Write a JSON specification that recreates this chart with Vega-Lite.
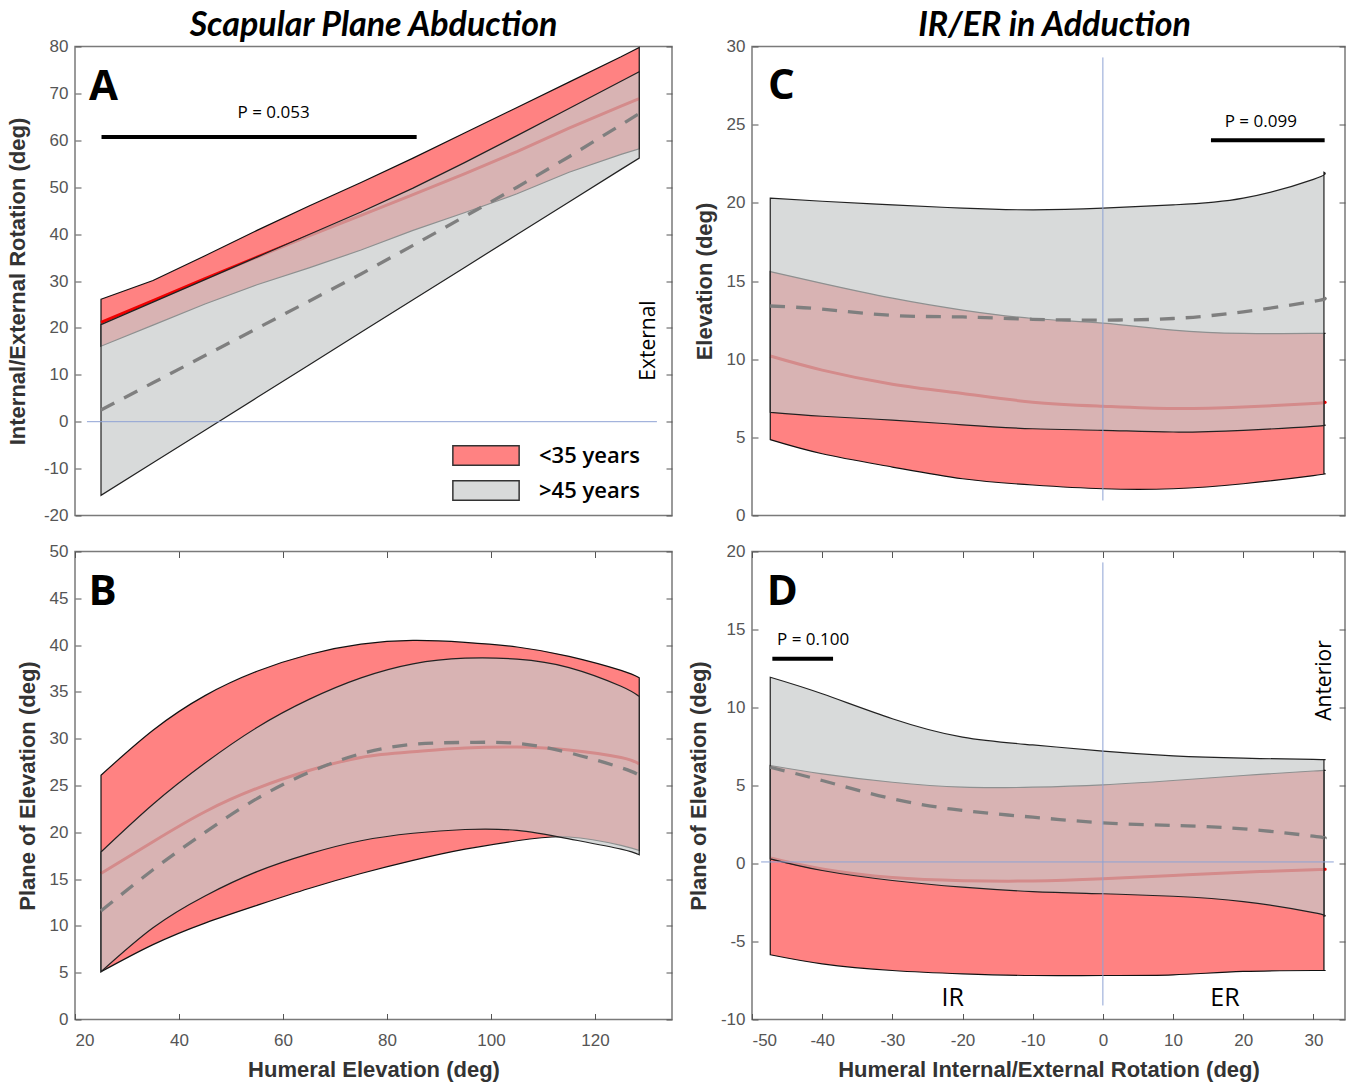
{
"$schema":"https://vega.github.io/schema/vega-lite/v6.json",
"background":"white",
"padding":{"left":5,"top":7.5,"right":5,"bottom":5},
"datasets":{
"A":[
{"x":25,"yu":26.1,"yl":16.1,"ym":21.2,"ou":20.7,"ol":-15.7,"om":2.5},
{"x":35,"yu":30.1,"yl":20.6,"ym":25.8,"ou":25.5,"ol":-8.75,"om":8.3},
{"x":45,"yu":35.4,"yl":25.1,"ym":30.5,"ou":30.3,"ol":-1.8,"om":14.1},
{"x":55,"yu":40.8,"yl":29.2,"ym":35.1,"ou":35.1,"ol":5.15,"om":19.9},
{"x":65,"yu":46.0,"yl":32.8,"ym":39.6,"ou":39.9,"ol":12.1,"om":25.7},
{"x":75,"yu":51.0,"yl":36.6,"ym":44.0,"ou":44.7,"ol":19.05,"om":31.5},
{"x":85,"yu":56.2,"yl":40.8,"ym":48.4,"ou":49.8,"ol":26.0,"om":37.6},
{"x":95,"yu":61.6,"yl":44.6,"ym":52.9,"ou":55.3,"ol":32.95,"om":43.8},
{"x":105,"yu":67.0,"yl":48.6,"ym":57.6,"ou":61.0,"ol":39.9,"om":50.0},
{"x":115,"yu":72.4,"yl":53.2,"ym":62.6,"ou":66.8,"ol":46.85,"om":56.5},
{"x":125,"yu":77.8,"yl":57.0,"ym":67.3,"ou":72.6,"ol":53.8,"om":63.3},
{"x":128.5,"yu":79.8,"yl":58.2,"ym":68.9,"ou":74.6,"ol":56.2,"om":65.7}
],
"B":[
{"x":25,"yu":26.1,"yl":5.1,"ym":15.6,"ou":17.9,"ol":5.1,"om":11.6},
{"x":35,"yu":30.9,"yl":8.0,"ym":19.0,"ou":23.0,"ol":9.8,"om":16.0},
{"x":45,"yu":34.6,"yl":10.3,"ym":22.2,"ou":27.4,"ol":13.2,"om":20.0},
{"x":55,"yu":37.2,"yl":12.2,"ym":24.7,"ou":31.2,"ol":15.8,"om":23.6},
{"x":65,"yu":39.0,"yl":14.0,"ym":26.6,"ou":34.2,"ol":17.7,"om":26.4},
{"x":75,"yu":40.1,"yl":15.6,"ym":28.0,"ou":36.5,"ol":19.1,"om":28.4},
{"x":85,"yu":40.5,"yl":17.0,"ym":28.6,"ou":38.0,"ol":19.9,"om":29.4},
{"x":95,"yu":40.3,"yl":18.2,"ym":29.0,"ou":38.6,"ol":20.3,"om":29.6},
{"x":105,"yu":39.8,"yl":19.1,"ym":29.1,"ou":38.5,"ol":20.2,"om":29.5},
{"x":115,"yu":38.8,"yl":19.5,"ym":28.8,"ou":37.6,"ol":19.3,"om":28.5},
{"x":125,"yu":37.3,"yl":18.6,"ym":28.0,"ou":35.6,"ol":18.2,"om":26.9},
{"x":128.5,"yu":36.5,"yl":18.05,"ym":27.3,"ou":34.5,"ol":17.6,"om":26.1}
],
"C":[
{"x":-47.4,"yu":15.6,"yl":4.85,"ym":10.2,"ou":20.3,"ol":6.6,"om":13.4},
{"x":-40,"yu":14.85,"yl":3.95,"ym":9.3,"ou":20.1,"ol":6.35,"om":13.2},
{"x":-30,"yu":13.9,"yl":3.1,"ym":8.4,"ou":19.87,"ol":6.1,"om":12.8},
{"x":-20,"yu":13.14,"yl":2.35,"ym":7.8,"ou":19.66,"ol":5.8,"om":12.7},
{"x":-10,"yu":12.6,"yl":1.95,"ym":7.25,"ou":19.55,"ol":5.55,"om":12.55},
{"x":0,"yu":12.3,"yl":1.71,"ym":6.99,"ou":19.66,"ol":5.45,"om":12.5},
{"x":10,"yu":11.86,"yl":1.71,"ym":6.84,"ou":19.87,"ol":5.34,"om":12.6},
{"x":20,"yu":11.65,"yl":2.03,"ym":6.94,"ou":20.3,"ol":5.45,"om":13.03},
{"x":30,"yu":11.65,"yl":2.55,"ym":7.16,"ou":21.5,"ol":5.7,"om":13.7},
{"x":31.5,"yu":11.65,"yl":2.67,"ym":7.26,"ou":21.95,"ol":5.8,"om":13.9}
],
"D":[
{"x":-47.4,"yu":6.28,"yl":-5.85,"ym":0.35,"ou":11.94,"ol":0.3,"om":6.17},
{"x":-40,"yu":5.75,"yl":-6.43,"ym":-0.35,"ou":10.88,"ol":-0.45,"om":5.32},
{"x":-30,"yu":5.21,"yl":-6.86,"ym":-0.9,"ou":9.28,"ol":-1.09,"om":4.15},
{"x":-20,"yu":4.89,"yl":-7.07,"ym":-1.1,"ou":8.1,"ol":-1.52,"om":3.4},
{"x":-10,"yu":4.89,"yl":-7.18,"ym":-1.12,"ou":7.6,"ol":-1.8,"om":2.97},
{"x":0,"yu":5.04,"yl":-7.18,"ym":-0.98,"ou":7.2,"ol":-1.94,"om":2.61},
{"x":10,"yu":5.32,"yl":-7.14,"ym":-0.77,"ou":6.9,"ol":-2.1,"om":2.44},
{"x":20,"yu":5.64,"yl":-6.92,"ym":-0.56,"ou":6.75,"ol":-2.44,"om":2.22},
{"x":30,"yu":5.93,"yl":-6.86,"ym":-0.4,"ou":6.67,"ol":-3.15,"om":1.75},
{"x":31.5,"yu":5.96,"yl":-6.86,"ym":-0.38,"ou":6.65,"ol":-3.38,"om":1.62}
]
},
"columns":2,
"spacing":{"row":36,"column":80},
"bounds":"flush",
"concat":[
{
"width":597,"height":469,
"title":{"text":"Scapular Plane Abduction","font":"Lato","fontSize":34,"fontStyle":"italic","fontWeight":"bold","color":"#000","anchor":"middle","frame":"group","offset":-5},
"layer":[
{"data":{"name":"A"},"mark":{"type":"area","stroke":"#111","strokeWidth":1.2},
"encoding":{
"x":{"field":"x","type":"quantitative","scale":{"domain":[20,134.8],"nice":false,"zero":false},"axis":null},
"y":{"field":"yu","type":"quantitative","scale":{"domain":[-20,80],"nice":false,"zero":false},"axis":{"orient":"left","title":"Internal/External Rotation (deg)","values":[-20,-10,0,10,20,30,40,50,60,70,80],"labelExpr":"'' + datum.value","titlePadding":14}},
"y2":{"field":"yl"},
"fill":{"datum":"<35 years","type":"nominal","scale":{"domain":["<35 years",">45 years"],"range":["#ff8282","#c6c9c9"]},
"legend":{"orient":"none","legendX":400,"legendY":398,"title":null,"symbolType":"M-3.4,-1H3.4V1H-3.4Z","symbolSize":380,"symbolStrokeColor":"#333","symbolStrokeWidth":1.5,"labelFont":"Open Sans","labelFontSize":22,"labelFontWeight":600,"labelColor":"#000","labelOffset":42,"rowPadding":9,"padding":0,
"encode":{"symbols":{"update":{"fillOpacity":{"signal":"datum.value === '>45 years' ? 0.69 : 1"},"stroke":{"value":"#333"},"strokeWidth":{"value":1.5}}}}}}
}},
{"data":{"name":"A"},"mark":{"type":"line","color":"#f00000","strokeWidth":3},
"encoding":{
"x":{"field":"x","type":"quantitative","scale":{"domain":[20,134.8],"nice":false,"zero":false},"axis":null},
"y":{"field":"ym","type":"quantitative","scale":{"domain":[-20,80],"nice":false,"zero":false},"axis":{"orient":"right","labels":false,"title":null,"values":[-20,-10,0,10,20,30,40,50,60,70,80]}}
}},
{"data":{"name":"A"},"mark":{"type":"area","fillOpacity":0.69,"stroke":"#222","strokeWidth":1.2},
"encoding":{
"x":{"field":"x","type":"quantitative","scale":{"domain":[20,134.8],"nice":false,"zero":false},"axis":null},
"y":{"field":"ou","type":"quantitative","scale":{"domain":[-20,80],"nice":false,"zero":false},"axis":null},
"y2":{"field":"ol"},
"fill":{"datum":">45 years","type":"nominal","scale":{"domain":["<35 years",">45 years"],"range":["#ff8282","#c6c9c9"]},
"legend":{"orient":"none","legendX":400,"legendY":398,"title":null,"symbolType":"M-3.4,-1H3.4V1H-3.4Z","symbolSize":380,"symbolStrokeColor":"#333","symbolStrokeWidth":1.5,"labelFont":"Open Sans","labelFontSize":22,"labelFontWeight":600,"labelColor":"#000","labelOffset":42,"rowPadding":9,"padding":0,
"encode":{"symbols":{"update":{"fillOpacity":{"signal":"datum.value === '>45 years' ? 0.69 : 1"},"stroke":{"value":"#333"},"strokeWidth":{"value":1.5}}}}}}
}},
{"data":{"name":"A"},"mark":{"type":"line","color":"#7f7f7f","strokeWidth":3.3,"strokeDash":[15,11]},
"encoding":{
"x":{"field":"x","type":"quantitative","scale":{"domain":[20,134.8],"nice":false,"zero":false},"axis":null},
"y":{"field":"om","type":"quantitative","scale":{"domain":[-20,80],"nice":false,"zero":false},"axis":null}
}},
{"data":{"values":[{"x1":22.3,"x2":131.9,"y":0}]},"mark":{"type":"rule","color":"#8ea2d4","strokeWidth":1},
"encoding":{
"x":{"field":"x1","type":"quantitative","scale":{"domain":[20,134.8],"nice":false,"zero":false},"axis":null},
"x2":{"field":"x2"},
"y":{"field":"y","type":"quantitative","scale":{"domain":[-20,80],"nice":false,"zero":false},"axis":null}
}},
{"data":{"values":[{"x1":25.1,"x2":85.7,"y":60.7}]},"mark":{"type":"rule","color":"#000","strokeWidth":4},
"encoding":{
"x":{"field":"x1","type":"quantitative","scale":{"domain":[20,134.8],"nice":false,"zero":false},"axis":null},
"x2":{"field":"x2"},
"y":{"field":"y","type":"quantitative","scale":{"domain":[-20,80],"nice":false,"zero":false},"axis":null}
}},
{"data":{"values":[{"x":58.2,"y":65.8,"label":"P = 0.053"}]},"mark":{"type":"text","font":"Open Sans","fontSize":17,"color":"#000"},
"encoding":{
"x":{"field":"x","type":"quantitative","scale":{"domain":[20,134.8],"nice":false,"zero":false},"axis":null},
"y":{"field":"y","type":"quantitative","scale":{"domain":[-20,80],"nice":false,"zero":false},"axis":null},
"text":{"field":"label"}
}},
{"data":{"values":[{"x":25.5,"y":71.4,"label":"A"}]},"mark":{"type":"text","font":"Open Sans","fontSize":42,"fontWeight":"bold","color":"#000"},
"encoding":{
"x":{"field":"x","type":"quantitative","scale":{"domain":[20,134.8],"nice":false,"zero":false},"axis":null},
"y":{"field":"y","type":"quantitative","scale":{"domain":[-20,80],"nice":false,"zero":false},"axis":null},
"text":{"field":"label"}
}},
{"data":{"values":[{"x":130.4,"y":17.3,"label":"External"}]},"mark":{"type":"text","font":"Open Sans","fontSize":21,"angle":270,"color":"#000"},
"encoding":{
"x":{"field":"x","type":"quantitative","scale":{"domain":[20,134.8],"nice":false,"zero":false},"axis":null},
"y":{"field":"y","type":"quantitative","scale":{"domain":[-20,80],"nice":false,"zero":false},"axis":null},
"text":{"field":"label"}
}}
]
},
{
"width":593,"height":469,
"title":{"text":"IR/ER in Adduction","font":"Lato","fontSize":34,"fontStyle":"italic","fontWeight":"bold","color":"#000","anchor":"middle","frame":"group","offset":-5,"dx":6},
"layer":[
{"data":{"name":"C"},"mark":{"type":"area","fill":"#ff8282","stroke":"#111","strokeWidth":1.2,"interpolate":"natural"},
"encoding":{
"x":{"field":"x","type":"quantitative","scale":{"domain":[-50,34.5],"nice":false,"zero":false},"axis":null},
"y":{"field":"yu","type":"quantitative","scale":{"domain":[0,30],"nice":false,"zero":false},"axis":{"orient":"left","title":"Elevation (deg)","values":[0,5,10,15,20,25,30],"labelExpr":"'' + datum.value"}},
"y2":{"field":"yl"}
}},
{"data":{"name":"C"},"mark":{"type":"line","color":"#f00000","strokeWidth":3,"interpolate":"natural"},
"encoding":{
"x":{"field":"x","type":"quantitative","scale":{"domain":[-50,34.5],"nice":false,"zero":false},"axis":null},
"y":{"field":"ym","type":"quantitative","scale":{"domain":[0,30],"nice":false,"zero":false},"axis":{"orient":"right","labels":false,"title":null,"values":[0,5,10,15,20,25,30]}}
}},
{"data":{"name":"C"},"mark":{"type":"area","fill":"#c6c9c9","fillOpacity":0.69,"stroke":"#222","strokeWidth":1.2,"interpolate":"natural"},
"encoding":{
"x":{"field":"x","type":"quantitative","scale":{"domain":[-50,34.5],"nice":false,"zero":false},"axis":null},
"y":{"field":"ou","type":"quantitative","scale":{"domain":[0,30],"nice":false,"zero":false},"axis":null},
"y2":{"field":"ol"}
}},
{"data":{"name":"C"},"mark":{"type":"line","color":"#7f7f7f","strokeWidth":3.3,"strokeDash":[15,11],"interpolate":"natural"},
"encoding":{
"x":{"field":"x","type":"quantitative","scale":{"domain":[-50,34.5],"nice":false,"zero":false},"axis":null},
"y":{"field":"om","type":"quantitative","scale":{"domain":[0,30],"nice":false,"zero":false},"axis":null}
}},
{"data":{"values":[{"x":0,"y1":0.96,"y2":29.3}]},"mark":{"type":"rule","color":"#8ea2d4","strokeWidth":1},
"encoding":{
"x":{"field":"x","type":"quantitative","scale":{"domain":[-50,34.5],"nice":false,"zero":false},"axis":null},
"y":{"field":"y1","type":"quantitative","scale":{"domain":[0,30],"nice":false,"zero":false},"axis":null},
"y2":{"field":"y2"}
}},
{"data":{"values":[{"x1":15.4,"x2":31.6,"y":24.0}]},"mark":{"type":"rule","color":"#000","strokeWidth":4},
"encoding":{
"x":{"field":"x1","type":"quantitative","scale":{"domain":[-50,34.5],"nice":false,"zero":false},"axis":null},
"x2":{"field":"x2"},
"y":{"field":"y","type":"quantitative","scale":{"domain":[0,30],"nice":false,"zero":false},"axis":null}
}},
{"data":{"values":[{"x":22.5,"y":25.17,"label":"P = 0.099"}]},"mark":{"type":"text","font":"Open Sans","fontSize":17,"color":"#000"},
"encoding":{
"x":{"field":"x","type":"quantitative","scale":{"domain":[-50,34.5],"nice":false,"zero":false},"axis":null},
"y":{"field":"y","type":"quantitative","scale":{"domain":[0,30],"nice":false,"zero":false},"axis":null},
"text":{"field":"label"}
}},
{"data":{"values":[{"x":-45.8,"y":27.5,"label":"C"}]},"mark":{"type":"text","font":"Open Sans","fontSize":42,"fontWeight":"bold","color":"#000"},
"encoding":{
"x":{"field":"x","type":"quantitative","scale":{"domain":[-50,34.5],"nice":false,"zero":false},"axis":null},
"y":{"field":"y","type":"quantitative","scale":{"domain":[0,30],"nice":false,"zero":false},"axis":null},
"text":{"field":"label"}
}}
]
},
{
"width":597,"height":468,
"layer":[
{"data":{"name":"B"},"mark":{"type":"area","fill":"#ff8282","stroke":"#111","strokeWidth":1.2,"interpolate":"natural"},
"encoding":{
"x":{"field":"x","type":"quantitative","scale":{"domain":[20,134.8],"nice":false,"zero":false},"axis":{"orient":"bottom","title":"Humeral Elevation (deg)","values":[20,40,60,80,100,120],"labelExpr":"'' + datum.value","labelPadding":19,"titlePadding":11}},
"y":{"field":"yu","type":"quantitative","scale":{"domain":[0,50],"nice":false,"zero":false},"axis":{"orient":"left","title":"Plane of Elevation (deg)","values":[0,5,10,15,20,25,30,35,40,45,50],"labelExpr":"'' + datum.value"}},
"y2":{"field":"yl"}
}},
{"data":{"name":"B"},"mark":{"type":"line","color":"#f00000","strokeWidth":3,"interpolate":"natural"},
"encoding":{
"x":{"field":"x","type":"quantitative","scale":{"domain":[20,134.8],"nice":false,"zero":false},"axis":{"orient":"top","labels":false,"title":null,"values":[20,40,60,80,100,120]}},
"y":{"field":"ym","type":"quantitative","scale":{"domain":[0,50],"nice":false,"zero":false},"axis":{"orient":"right","labels":false,"title":null,"values":[0,5,10,15,20,25,30,35,40,45,50]}}
}},
{"data":{"name":"B"},"mark":{"type":"area","fill":"#c6c9c9","fillOpacity":0.69,"stroke":"#222","strokeWidth":1.2,"interpolate":"natural"},
"encoding":{
"x":{"field":"x","type":"quantitative","scale":{"domain":[20,134.8],"nice":false,"zero":false},"axis":null},
"y":{"field":"ou","type":"quantitative","scale":{"domain":[0,50],"nice":false,"zero":false},"axis":null},
"y2":{"field":"ol"}
}},
{"data":{"name":"B"},"mark":{"type":"line","color":"#7f7f7f","strokeWidth":3.3,"strokeDash":[15,11],"interpolate":"natural"},
"encoding":{
"x":{"field":"x","type":"quantitative","scale":{"domain":[20,134.8],"nice":false,"zero":false},"axis":null},
"y":{"field":"om","type":"quantitative","scale":{"domain":[0,50],"nice":false,"zero":false},"axis":null}
}},
{"data":{"values":[{"x":25.3,"y":45.65,"label":"B"}]},"mark":{"type":"text","font":"Open Sans","fontSize":42,"fontWeight":"bold","color":"#000"},
"encoding":{
"x":{"field":"x","type":"quantitative","scale":{"domain":[20,134.8],"nice":false,"zero":false},"axis":null},
"y":{"field":"y","type":"quantitative","scale":{"domain":[0,50],"nice":false,"zero":false},"axis":null},
"text":{"field":"label"}
}}
]
},
{
"width":593,"height":468,
"layer":[
{"data":{"name":"D"},"mark":{"type":"area","fill":"#ff8282","stroke":"#111","strokeWidth":1.2,"interpolate":"natural"},
"encoding":{
"x":{"field":"x","type":"quantitative","scale":{"domain":[-50,34.5],"nice":false,"zero":false},"axis":{"orient":"bottom","title":"Humeral Internal/External Rotation (deg)","values":[-50,-40,-30,-20,-10,0,10,20,30],"labelExpr":"'' + datum.value","labelPadding":19,"titlePadding":11}},
"y":{"field":"yu","type":"quantitative","scale":{"domain":[-10,20],"nice":false,"zero":false},"axis":{"orient":"left","title":"Plane of Elevation (deg)","values":[-10,-5,0,5,10,15,20],"labelExpr":"'' + datum.value"}},
"y2":{"field":"yl"}
}},
{"data":{"name":"D"},"mark":{"type":"line","color":"#f00000","strokeWidth":3,"interpolate":"natural"},
"encoding":{
"x":{"field":"x","type":"quantitative","scale":{"domain":[-50,34.5],"nice":false,"zero":false},"axis":{"orient":"top","labels":false,"title":null,"values":[-50,-40,-30,-20,-10,0,10,20,30]}},
"y":{"field":"ym","type":"quantitative","scale":{"domain":[-10,20],"nice":false,"zero":false},"axis":{"orient":"right","labels":false,"title":null,"values":[-10,-5,0,5,10,15,20]}}
}},
{"data":{"name":"D"},"mark":{"type":"area","fill":"#c6c9c9","fillOpacity":0.69,"stroke":"#222","strokeWidth":1.2,"interpolate":"natural"},
"encoding":{
"x":{"field":"x","type":"quantitative","scale":{"domain":[-50,34.5],"nice":false,"zero":false},"axis":null},
"y":{"field":"ou","type":"quantitative","scale":{"domain":[-10,20],"nice":false,"zero":false},"axis":null},
"y2":{"field":"ol"}
}},
{"data":{"name":"D"},"mark":{"type":"line","color":"#7f7f7f","strokeWidth":3.3,"strokeDash":[15,11],"interpolate":"natural"},
"encoding":{
"x":{"field":"x","type":"quantitative","scale":{"domain":[-50,34.5],"nice":false,"zero":false},"axis":null},
"y":{"field":"om","type":"quantitative","scale":{"domain":[-10,20],"nice":false,"zero":false},"axis":null}
}},
{"data":{"values":[{"x":0,"y1":-9.1,"y2":19.3}]},"mark":{"type":"rule","color":"#8ea2d4","strokeWidth":1},
"encoding":{
"x":{"field":"x","type":"quantitative","scale":{"domain":[-50,34.5],"nice":false,"zero":false},"axis":null},
"y":{"field":"y1","type":"quantitative","scale":{"domain":[-10,20],"nice":false,"zero":false},"axis":null},
"y2":{"field":"y2"}
}},
{"data":{"values":[{"x1":-48.7,"x2":32.9,"y":0.1}]},"mark":{"type":"rule","color":"#8ea2d4","strokeWidth":1},
"encoding":{
"x":{"field":"x1","type":"quantitative","scale":{"domain":[-50,34.5],"nice":false,"zero":false},"axis":null},
"x2":{"field":"x2"},
"y":{"field":"y","type":"quantitative","scale":{"domain":[-10,20],"nice":false,"zero":false},"axis":null}
}},
{"data":{"values":[{"x1":-47.1,"x2":-38.45,"y":13.12}]},"mark":{"type":"rule","color":"#000","strokeWidth":4},
"encoding":{
"x":{"field":"x1","type":"quantitative","scale":{"domain":[-50,34.5],"nice":false,"zero":false},"axis":null},
"x2":{"field":"x2"},
"y":{"field":"y","type":"quantitative","scale":{"domain":[-10,20],"nice":false,"zero":false},"axis":null}
}},
{"data":{"values":[{"x":-41.3,"y":14.3,"label":"P = 0.100"}]},"mark":{"type":"text","font":"Open Sans","fontSize":17,"color":"#000"},
"encoding":{
"x":{"field":"x","type":"quantitative","scale":{"domain":[-50,34.5],"nice":false,"zero":false},"axis":null},
"y":{"field":"y","type":"quantitative","scale":{"domain":[-10,20],"nice":false,"zero":false},"axis":null},
"text":{"field":"label"}
}},
{"data":{"values":[{"x":-45.7,"y":17.4,"label":"D"}]},"mark":{"type":"text","font":"Open Sans","fontSize":42,"fontWeight":"bold","color":"#000"},
"encoding":{
"x":{"field":"x","type":"quantitative","scale":{"domain":[-50,34.5],"nice":false,"zero":false},"axis":null},
"y":{"field":"y","type":"quantitative","scale":{"domain":[-10,20],"nice":false,"zero":false},"axis":null},
"text":{"field":"label"}
}},
{"data":{"values":[{"x":31.6,"y":11.73,"label":"Anterior"}]},"mark":{"type":"text","font":"Open Sans","fontSize":21,"angle":270,"color":"#000"},
"encoding":{
"x":{"field":"x","type":"quantitative","scale":{"domain":[-50,34.5],"nice":false,"zero":false},"axis":null},
"y":{"field":"y","type":"quantitative","scale":{"domain":[-10,20],"nice":false,"zero":false},"axis":null},
"text":{"field":"label"}
}},
{"data":{"values":[{"x":-21.4,"y":-8.6,"label":"IR"},{"x":17.4,"y":-8.6,"label":"ER"}]},"mark":{"type":"text","font":"Open Sans","fontSize":25,"color":"#000"},
"encoding":{
"x":{"field":"x","type":"quantitative","scale":{"domain":[-50,34.5],"nice":false,"zero":false},"axis":null},
"y":{"field":"y","type":"quantitative","scale":{"domain":[-10,20],"nice":false,"zero":false},"axis":null},
"text":{"field":"label"}
}}
]
}
],
"config":{
"view":{"stroke":"#7a7a7a","strokeWidth":1.5},
"axis":{"domain":false,"grid":false,"ticks":true,"tickColor":"#555","tickWidth":1,"tickSize":-6,"labelFont":"Liberation Sans","labelFontSize":17,"labelColor":"#555","labelPadding":13,"titleFont":"Liberation Sans","titleFontSize":22,"titleFontWeight":"bold","titleColor":"#333","titlePadding":10}
}
}
